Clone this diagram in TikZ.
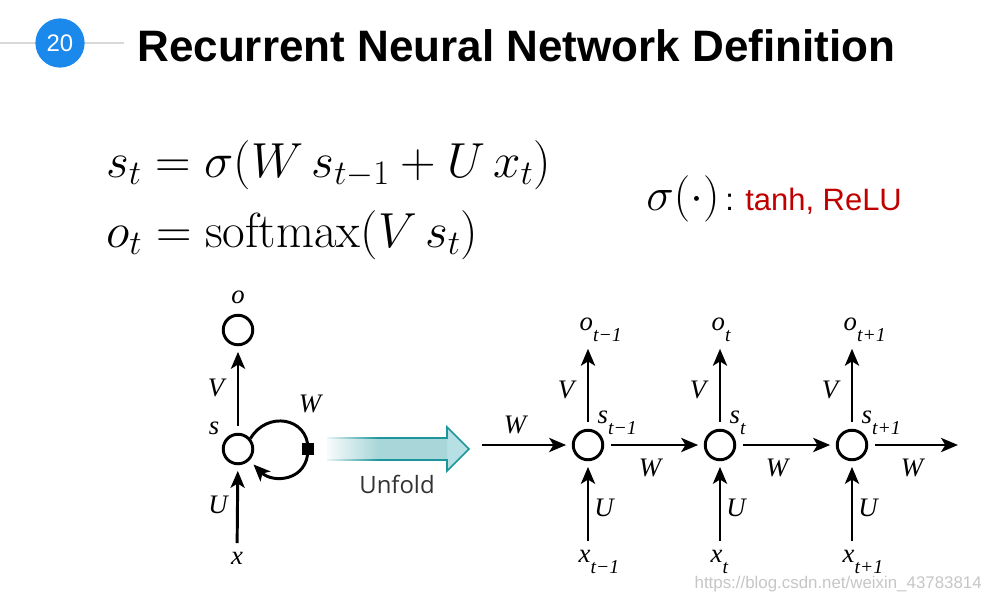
\RequirePackage{fix-cm}
\documentclass[tikz,border=0pt]{standalone}
\usepackage{fontspec}
\usetikzlibrary{arrows.meta,fadings}
\newfontfamily\arialfont{Liberation Sans}
\newfontfamily\unfoldfont{Open Sans}
\newfontfamily\lblfont{Liberation Serif}
\definecolor{slideblue}{RGB}{27,137,236}
\definecolor{relured}{RGB}{192,0,0}
\definecolor{foldteal}{RGB}{28,150,156}
\definecolor{foldfill}{RGB}{182,224,227}
% subscript set lower than usual, as in the figure
\newcommand{\dsub}[2]{#1\raisebox{-8pt}{\fontsize{14}{14}\selectfont #2}}
\tikzset{
  unit/.style={circle,draw,line width=2.1pt,minimum size=21pt,inner sep=0pt},
  flow/.style={-{Stealth[length=12pt,width=10pt,inset=3pt]},line width=2.1pt,shorten <=5pt,shorten >=4pt},
  lbl/.style={font=\lblfont\itshape\fontsize{19}{21}\selectfont,inner sep=1pt}
}

\begin{document}
\begin{tikzpicture}[x=0.025cm,y=-0.025cm]
\useasboundingbox (0,0) rectangle (981,600);

% header
\draw[gray!30, line width=1pt] (0,43) -- (124,43);
\node[circle, fill=slideblue, minimum size=35pt, inner sep=0pt, text=white,
  font=\arialfont\fontsize{17}{17}\selectfont] (num) at (60,43) {20};
\node[anchor=base west, inner sep=0pt, font=\arialfont\bfseries\fontsize{31.3}{36}\selectfont]
  (title) at (137,61) {Recurrent Neural Network Definition};

% equations
\node[anchor=base west, inner sep=0pt, font=\fontsize{35}{42}\selectfont]
  (eqs) at (106,177) {$s_t = \sigma(W\,s_{t-1} + U\,x_t)$};
\node[anchor=base west, inner sep=0pt, font=\fontsize{35}{42}\selectfont]
  (eqo) at (106,247) {$o_t = \mathrm{softmax}(V\,s_t)$};
\node[anchor=base west, inner sep=0pt, font=\fontsize{33}{38}\selectfont]
  (act) at (646,210) {$\sigma(\cdot)$};
\node[anchor=base west, inner sep=0pt, font=\arialfont\fontsize{22}{26}\selectfont]
  (actlist) at (725,210) {: \textcolor{relured}{tanh, ReLU}};

% folded network
\node[unit] (o) at (238,330) {};
\node[unit] (s) at (238,449) {};
\node[lbl] (x) at (237,558) {x};
\node[lbl] (olbl) at (238,297) {o};
\node[lbl] (slbl) at (214,428) {s};
\node[lbl] (vlbl) at (216,388) {V};
\node[lbl] (ulbl) at (218,505) {U};
\node[lbl] (wlbl) at (310,404) {W};
\draw[flow] (x) -- (s);
\draw[flow] (s) -- (o);
\draw[line width=2.1pt] (s.40) to[out=60,in=90,looseness=1.4] (308,449);
\draw[flow,shorten <=0pt] (308,449) to[out=-90,in=-45,looseness=1.4] (s.-45);
\node[fill, minimum size=9pt, inner sep=0pt] (sq) at (308,449) {};

% unfold arrow
\fill[foldfill] (327,438) -- (447,438) -- (447,427) -- (469,449) -- (447,471) -- (447,460) -- (327,460) -- cycle;
\shade[top color=foldteal!38, middle color=foldfill!55, bottom color=foldteal!38] (327,438) rectangle (447,460);
\draw[foldteal, line width=1.2pt, line join=miter] (327,438) -- (447,438) -- (447,427) -- (469,449) -- (447,471) -- (447,460) -- (327,460);
\fill[white, path fading=east] (322,424) rectangle (378,474);
\node[font=\unfoldfont\fontsize{17}{20}\selectfont, text=black!80] (unfold) at (397,484) {Unfold};

% unfolded network
\coordinate (win) at (482,445);
\coordinate (wout) at (958,445);
\foreach \i/\cx/\sub/\wx in {1/588/t−1/650, 2/720/t/777, 3/852/t+1/912} {
  \node[unit] (s\i) at (\cx,445) {};
  \node[lbl, anchor=base west] (o\i) at (\cx-10,330) {\dsub{o}{\sub}};
  \node[lbl, anchor=base west] (x\i) at (\cx-11,562) {\dsub{x}{\sub}};
  \node[lbl, anchor=base west] (sl\i) at (\cx+8,423) {\dsub{s}{\sub}};
  \node[lbl] (v\i) at (\cx-22,390) {V};
  \node[lbl] (u\i) at (\cx+16,508) {U};
  \node[lbl] (w\i) at (\wx,468) {W};
  \draw[flow] (x\i.north -| s\i) -- (s\i);
  \draw[flow] (s\i) -- (o\i.south -| s\i);
}
\node[lbl] (win lbl) at (515,425) {W};
\draw[flow, shorten <=0pt] (win) -- (s1);
\draw[flow] (s1) -- (s2);
\draw[flow] (s2) -- (s3);
\draw[flow, shorten >=0pt] (s3) -- (wout);

% watermark
\node[anchor=base east, inner sep=0pt, font=\arialfont\fontsize{12}{14}\selectfont, text=gray!45]
  (mark) at (982,588) {https://blog.csdn.net/weixin\_43783814};
\end{tikzpicture}
\end{document}
